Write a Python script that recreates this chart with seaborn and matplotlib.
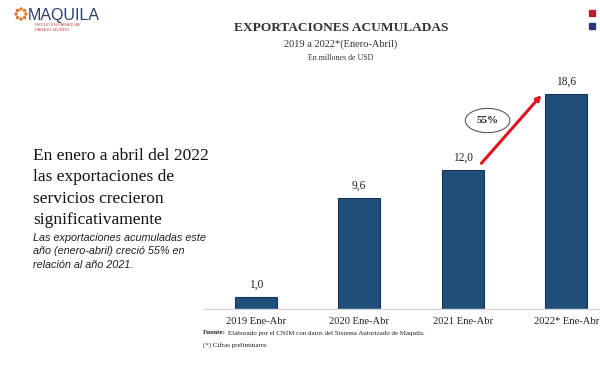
import numpy as np
import pandas as pd
import matplotlib.pyplot as plt
import seaborn as sns
from matplotlib.patches import Ellipse, Rectangle, Circle

# data
periods = ["2019 Ene-Abr", "2020 Ene-Abr", "2021 Ene-Abr", "2022* Ene-Abr"]
exports = [1.0, 9.6, 12.0, 18.6]
value_labels = ["1,0", "9,6", "12,0", "18,6"]
growth_label = "55%"

sns.set_theme(style="white")
plt.rcParams['font.family'] = ['Liberation Serif', 'DejaVu Serif']

fig = plt.figure(figsize=(6, 3.88), dpi=100)
fig.patch.set_facecolor("white")

# bars axes (extends a bit past the right edge like the slide)
ax = fig.add_axes([0.34, 0.2036, 0.69, 0.596])
df = pd.DataFrame({"Periodo": periods, "Valor": exports})
sns.barplot(data=df, x="Periodo", y="Valor", ax=ax, color="#1F4E79",
            width=0.41, edgecolor="#14365a", linewidth=0.8, saturation=1)
ax.set_ylim(0, 20)
ax.set_xlim(-0.5, 3.5)
ax.set_xlabel("")
ax.set_ylabel("")
ax.set_yticks([])
for s in ["top", "right", "left"]:
    ax.spines[s].set_visible(False)
ax.spines["bottom"].set_color("#d9d9d9")
ax.spines["bottom"].set_linewidth(1.0)
ax.tick_params(axis="x", length=0, labelsize=7.6, pad=6, colors="#222222")
ax.patch.set_alpha(0)

for i, (v, lab) in enumerate(zip(exports, value_labels)):
    ax.text(i, v + 0.55, lab, ha="center", va="bottom", fontsize=8.3, color="#222222")

# growth arrow and ellipse
ax.annotate("", xy=(2.76, 18.5), xytext=(2.18, 12.6),
            arrowprops=dict(arrowstyle="-|>", color="#e0141e", lw=2.2,
                            mutation_scale=7, shrinkA=0, shrinkB=0))
ax.add_patch(Ellipse((2.24, 16.3), 0.43, 2.1, facecolor="white",
                     edgecolor="#444444", lw=0.7, zorder=5))
ax.text(2.24, 16.3, growth_label, ha="center", va="center", fontsize=8,
        fontweight="bold", color="#222222", zorder=6)

# titles
fig.text(0.568, 0.928, "EXPORTACIONES ACUMULADAS", ha="center", va="center",
         fontsize=9.6, fontweight="bold", color="#333333")
fig.text(0.568, 0.886, "2019 a 2022*(Enero-Abril)", ha="center", va="center",
         fontsize=7.5, color="#333333")
fig.text(0.568, 0.851, "En millones de USD", ha="center", va="center",
         fontsize=5.7, color="#333333")

# left commentary
big = ["En enero a abril del 2022", "las exportaciones de",
       "servicios crecieron", "significativamente"]
for k, line in enumerate(big):
    fig.text(0.055, 1 - (156 + 21.5 * k) / 388, line, ha="left", va="center",
             fontsize=12.5, color="#111111")
small = ["Las exportaciones acumuladas este", "año (enero-abril) creció 55% en",
         "relación al año 2021."]
for k, line in enumerate(small):
    fig.text(0.055, 1 - (238 + 13.5 * k) / 388, line, ha="left", va="center",
             fontsize=7.8, style="italic", color="#222222",
             family=["Liberation Sans", "DejaVu Sans"])

# footer
x0 = 0.338
t = fig.text(x0, 1 - 333 / 388, "Fuente:", ha="left", va="center",
             fontsize=5, fontweight="bold", color="#222222")
fig.canvas.draw()
w = t.get_window_extent().width / 600
fig.text(x0 + w + 0.003, 1 - 333 / 388,
         "Elaborado por el CNIM con datos del Sistema Autorizado de Maquila.",
         ha="left", va="center", fontsize=5, color="#222222")
fig.text(x0, 1 - 345 / 388, "(*) Cifras preliminares", ha="left",
         va="center", fontsize=5, color="#222222")

# logo
lax = fig.add_axes([0, 0.85, 0.25, 0.15])
lax.set_xlim(0, 150)
lax.set_ylim(58, 0)
lax.axis("off")
for a in np.linspace(0, 2 * np.pi, 8, endpoint=False):
    lax.add_patch(Circle((21 + 5 * np.cos(a), 14 + 5 * np.sin(a)), 1.7,
                         color="#e8732a", lw=0))
lax.text(28, 15, "MAQUILA", ha="left", va="center", fontsize=11.5,
         color="#2d4070", family=["Liberation Sans", "DejaVu Sans"])
lax.text(35, 25, "HECHO EN PARAGUAY", ha="left", va="center", fontsize=3,
         color="#d04040", family=["Liberation Sans", "DejaVu Sans"])
lax.text(35, 30, "PARA EL MUNDO", ha="left", va="center", fontsize=3,
         color="#d04040", family=["Liberation Sans", "DejaVu Sans"])

# corner squares
fig.patches.append(Rectangle((589 / 600, 1 - 16 / 388), 6 / 600, 6 / 388,
                             transform=fig.transFigure, color="#b5202e"))
fig.patches.append(Rectangle((589 / 600, 1 - 29 / 388), 6 / 600, 6 / 388,
                             transform=fig.transFigure, color="#2c3575"))

fig.savefig("out.png", dpi=100)
